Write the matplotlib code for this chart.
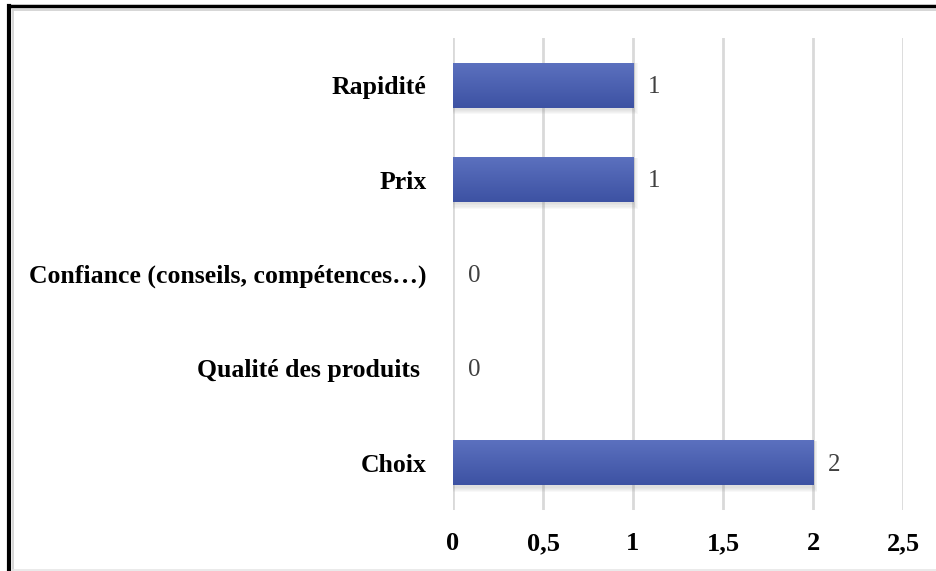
import numpy as np
import matplotlib.pyplot as plt
from matplotlib.patches import Rectangle
from matplotlib.lines import Line2D
from matplotlib.colors import LinearSegmentedColormap

categories = ["Rapidité", "Prix", "Confiance (conseils, compétences…)", "Qualité des produits ", "Choix"]
values = [1, 1, 0, 0, 2]
xticks = [0, 0.5, 1, 1.5, 2, 2.5]
xtick_labels = ["0", "0,5", "1", "1,5", "2", "2,5"]

plt.rcParams['font.family'] = ['Liberation Serif', 'DejaVu Serif']

W, H = 937, 571
fig = plt.figure(figsize=(W / 100, H / 100), dpi=100)
ax = fig.add_axes([453 / W, 1 - 510 / H, (903 - 453) / W, (510 - 38) / H])

y = np.arange(len(categories))
bars = ax.barh(y, values, height=0.48, color='#4a5fb0', zorder=3)

# vertical gradient inside each bar, plus a soft shadow
grad = np.linspace(0, 1, 100).reshape(-1, 1)
cmap = LinearSegmentedColormap.from_list('bar', ['#5c71bf', '#3d52a3'])
for b, v in zip(bars, values):
    if v <= 0:
        continue
    x0, y0 = b.get_x(), b.get_y()
    w, h = b.get_width(), b.get_height()
    for k in range(1, 6):
        d = 0.012 * k
        ax.add_patch(Rectangle((x0 - 0.005 * k, y0 + 0.01), w + 0.01 * k, h + d,
                               color='#808080', alpha=0.05, zorder=2, lw=0))
    im = ax.imshow(grad, extent=[x0, x0 + w, y0 + h, y0], aspect='auto', cmap=cmap, zorder=4)
    im.set_clip_path(b)

for yi, v in zip(y, values):
    ax.text(v + 0.085, yi + 0.02, str(v), va='center', ha='left', fontsize=18, color='#404040', zorder=5)

ax.set_xlim(0, 2.5)
ax.set_ylim(len(categories) - 0.5, -0.5)
ax.set_xticks(xticks)
ax.set_xticklabels(xtick_labels, fontsize=19, fontweight='bold')
ax.set_yticks(y)
ax.set_yticklabels(categories, fontsize=18.5, fontweight='bold')
ax.tick_params(axis='both', length=0)
ax.tick_params(axis='x', pad=16)
ax.tick_params(axis='y', pad=19)
ax.xaxis.grid(True, color='#d9d9d9', linewidth=2, zorder=0)
ax.set_axisbelow(True)
for s in ax.spines.values():
    s.set_visible(False)

# outer frame
fig.add_artist(Line2D([9.5 / W, 9.5 / W], [0, 1 - 6 / H], color='black', linewidth=3, transform=fig.transFigure))
fig.add_artist(Line2D([9.5 / W, 1], [1 - 6 / H, 1 - 6 / H], color='black', linewidth=2.5, transform=fig.transFigure))
fig.add_artist(Line2D([12.5 / W, 12.5 / W], [1 / H, 1 - 9.5 / H], color='#d0d0d0', linewidth=1.2, transform=fig.transFigure))
fig.add_artist(Line2D([12.5 / W, 1], [1 - 9.5 / H, 1 - 9.5 / H], color='#d0d0d0', linewidth=1.2, transform=fig.transFigure))
fig.add_artist(Line2D([12.5 / W, 1], [1 / H, 1 / H], color='#e6e6e6', linewidth=1.2, transform=fig.transFigure))

fig.savefig('out.png', dpi=100)
